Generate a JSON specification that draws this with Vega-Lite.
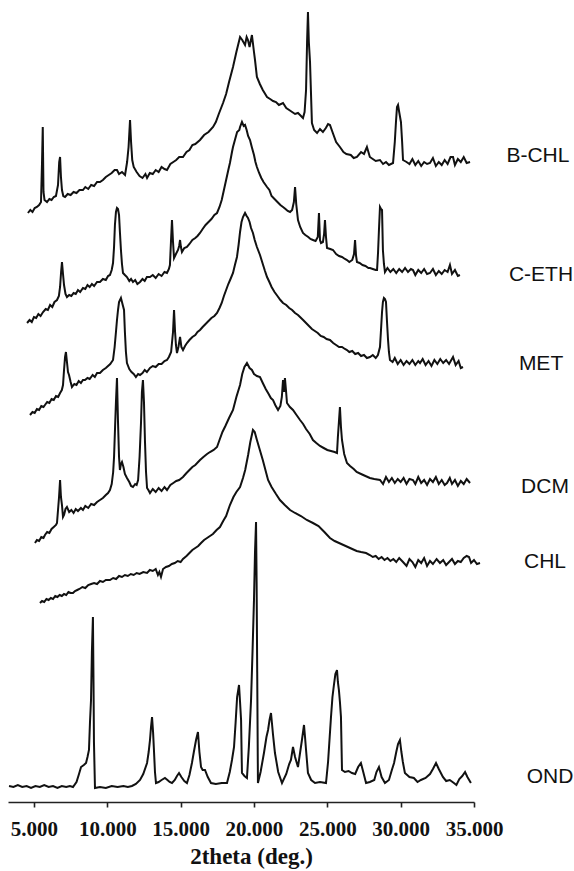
{
"$schema": "https://vega.github.io/schema/vega-lite/v6.json",
"autosize": {"type": "none"},
"padding": {"left": 8, "top": 2, "right": 100, "bottom": 69},
"width": 466,
"height": 800,
"background": "white",
"config": {"view": {"stroke": null}},
"datasets": {
"xrd": [
{"s":"B-CHL","x":4.59,"y":589},{"s":"B-CHL","x":4.75,"y":592},{"s":"B-CHL","x":4.9,"y":590},{"s":"B-CHL","x":5.05,"y":594},{"s":"B-CHL","x":5.2,"y":595},{"s":"B-CHL","x":5.35,"y":597},{"s":"B-CHL","x":5.48,"y":600},{"s":"B-CHL","x":5.55,"y":640},{"s":"B-CHL","x":5.6,"y":675},{"s":"B-CHL","x":5.65,"y":610},{"s":"B-CHL","x":5.72,"y":602},{"s":"B-CHL","x":5.89,"y":600},{"s":"B-CHL","x":6.05,"y":603},{"s":"B-CHL","x":6.2,"y":602},{"s":"B-CHL","x":6.35,"y":605},{"s":"B-CHL","x":6.5,"y":606},{"s":"B-CHL","x":6.64,"y":617},{"s":"B-CHL","x":6.72,"y":640},{"s":"B-CHL","x":6.78,"y":645},{"s":"B-CHL","x":6.84,"y":625},{"s":"B-CHL","x":6.91,"y":612},{"s":"B-CHL","x":7.0,"y":606},{"s":"B-CHL","x":7.12,"y":605},{"s":"B-CHL","x":7.3,"y":608},{"s":"B-CHL","x":7.5,"y":607},{"s":"B-CHL","x":7.7,"y":610},{"s":"B-CHL","x":7.9,"y":609},{"s":"B-CHL","x":8.1,"y":612},{"s":"B-CHL","x":8.34,"y":612},{"s":"B-CHL","x":8.5,"y":615},{"s":"B-CHL","x":8.7,"y":613},{"s":"B-CHL","x":8.9,"y":617},{"s":"B-CHL","x":9.1,"y":616},{"s":"B-CHL","x":9.3,"y":620},{"s":"B-CHL","x":9.5,"y":620},{"s":"B-CHL","x":9.7,"y":622},{"s":"B-CHL","x":9.9,"y":625},{"s":"B-CHL","x":10.1,"y":627},{"s":"B-CHL","x":10.3,"y":629},{"s":"B-CHL","x":10.5,"y":632},{"s":"B-CHL","x":10.66,"y":632},{"s":"B-CHL","x":10.8,"y":628},{"s":"B-CHL","x":11.0,"y":630},{"s":"B-CHL","x":11.21,"y":627},{"s":"B-CHL","x":11.35,"y":640},{"s":"B-CHL","x":11.45,"y":655},{"s":"B-CHL","x":11.55,"y":682},{"s":"B-CHL","x":11.62,"y":660},{"s":"B-CHL","x":11.7,"y":642},{"s":"B-CHL","x":11.8,"y":635},{"s":"B-CHL","x":12.0,"y":630},{"s":"B-CHL","x":12.2,"y":626},{"s":"B-CHL","x":12.4,"y":624},{"s":"B-CHL","x":12.6,"y":628},{"s":"B-CHL","x":12.71,"y":624},{"s":"B-CHL","x":12.9,"y":629},{"s":"B-CHL","x":13.1,"y":628},{"s":"B-CHL","x":13.3,"y":632},{"s":"B-CHL","x":13.5,"y":630},{"s":"B-CHL","x":13.7,"y":635},{"s":"B-CHL","x":13.9,"y":633},{"s":"B-CHL","x":14.07,"y":632},{"s":"B-CHL","x":14.3,"y":638},{"s":"B-CHL","x":14.5,"y":640},{"s":"B-CHL","x":14.7,"y":642},{"s":"B-CHL","x":14.9,"y":645},{"s":"B-CHL","x":15.16,"y":645},{"s":"B-CHL","x":15.4,"y":650},{"s":"B-CHL","x":15.6,"y":652},{"s":"B-CHL","x":15.8,"y":657},{"s":"B-CHL","x":16.0,"y":658},{"s":"B-CHL","x":16.32,"y":662},{"s":"B-CHL","x":16.6,"y":667},{"s":"B-CHL","x":16.9,"y":670},{"s":"B-CHL","x":17.21,"y":675},{"s":"B-CHL","x":17.4,"y":680},{"s":"B-CHL","x":17.6,"y":688},{"s":"B-CHL","x":17.89,"y":699},{"s":"B-CHL","x":18.1,"y":708},{"s":"B-CHL","x":18.3,"y":720},{"s":"B-CHL","x":18.57,"y":735},{"s":"B-CHL","x":18.8,"y":750},{"s":"B-CHL","x":19.05,"y":765},{"s":"B-CHL","x":19.2,"y":762},{"s":"B-CHL","x":19.39,"y":757},{"s":"B-CHL","x":19.5,"y":765},{"s":"B-CHL","x":19.59,"y":762},{"s":"B-CHL","x":19.7,"y":755},{"s":"B-CHL","x":19.86,"y":767},{"s":"B-CHL","x":20.0,"y":750},{"s":"B-CHL","x":20.07,"y":742},{"s":"B-CHL","x":20.2,"y":725},{"s":"B-CHL","x":20.4,"y":718},{"s":"B-CHL","x":20.6,"y":712},{"s":"B-CHL","x":20.89,"y":705},{"s":"B-CHL","x":21.1,"y":703},{"s":"B-CHL","x":21.3,"y":701},{"s":"B-CHL","x":21.5,"y":700},{"s":"B-CHL","x":21.7,"y":697},{"s":"B-CHL","x":21.98,"y":699},{"s":"B-CHL","x":22.2,"y":694},{"s":"B-CHL","x":22.4,"y":692},{"s":"B-CHL","x":22.6,"y":690},{"s":"B-CHL","x":22.8,"y":688},{"s":"B-CHL","x":23.0,"y":689},{"s":"B-CHL","x":23.14,"y":687},{"s":"B-CHL","x":23.34,"y":684},{"s":"B-CHL","x":23.45,"y":690},{"s":"B-CHL","x":23.55,"y":712},{"s":"B-CHL","x":23.62,"y":760},{"s":"B-CHL","x":23.68,"y":790},{"s":"B-CHL","x":23.74,"y":760},{"s":"B-CHL","x":23.82,"y":740},{"s":"B-CHL","x":23.95,"y":679},{"s":"B-CHL","x":24.1,"y":672},{"s":"B-CHL","x":24.3,"y":669},{"s":"B-CHL","x":24.5,"y":673},{"s":"B-CHL","x":24.7,"y":670},{"s":"B-CHL","x":24.9,"y":674},{"s":"B-CHL","x":25.05,"y":678},{"s":"B-CHL","x":25.18,"y":677},{"s":"B-CHL","x":25.4,"y":668},{"s":"B-CHL","x":25.6,"y":660},{"s":"B-CHL","x":25.86,"y":655},{"s":"B-CHL","x":26.1,"y":650},{"s":"B-CHL","x":26.3,"y":648},{"s":"B-CHL","x":26.6,"y":647},{"s":"B-CHL","x":26.8,"y":644},{"s":"B-CHL","x":27.02,"y":645},{"s":"B-CHL","x":27.3,"y":650},{"s":"B-CHL","x":27.5,"y":648},{"s":"B-CHL","x":27.7,"y":655},{"s":"B-CHL","x":27.9,"y":645},{"s":"B-CHL","x":28.1,"y":643},{"s":"B-CHL","x":28.3,"y":641},{"s":"B-CHL","x":28.59,"y":642},{"s":"B-CHL","x":28.8,"y":638},{"s":"B-CHL","x":29.0,"y":640},{"s":"B-CHL","x":29.2,"y":637},{"s":"B-CHL","x":29.48,"y":639},{"s":"B-CHL","x":29.6,"y":660},{"s":"B-CHL","x":29.68,"y":680},{"s":"B-CHL","x":29.75,"y":695},{"s":"B-CHL","x":29.82,"y":697},{"s":"B-CHL","x":29.9,"y":690},{"s":"B-CHL","x":30.02,"y":680},{"s":"B-CHL","x":30.1,"y":660},{"s":"B-CHL","x":30.16,"y":642},{"s":"B-CHL","x":30.4,"y":640},{"s":"B-CHL","x":30.6,"y":638},{"s":"B-CHL","x":30.8,"y":643},{"s":"B-CHL","x":31.0,"y":637},{"s":"B-CHL","x":31.2,"y":641},{"s":"B-CHL","x":31.4,"y":636},{"s":"B-CHL","x":31.6,"y":640},{"s":"B-CHL","x":31.8,"y":638},{"s":"B-CHL","x":32.0,"y":639},{"s":"B-CHL","x":32.2,"y":644},{"s":"B-CHL","x":32.4,"y":636},{"s":"B-CHL","x":32.6,"y":640},{"s":"B-CHL","x":32.8,"y":637},{"s":"B-CHL","x":33.0,"y":642},{"s":"B-CHL","x":33.2,"y":638},{"s":"B-CHL","x":33.4,"y":645},{"s":"B-CHL","x":33.57,"y":645},{"s":"B-CHL","x":33.7,"y":637},{"s":"B-CHL","x":33.9,"y":643},{"s":"B-CHL","x":34.1,"y":640},{"s":"B-CHL","x":34.3,"y":645},{"s":"B-CHL","x":34.5,"y":639},{"s":"B-CHL","x":34.73,"y":640},

{"s":"C-ETH","x":4.53,"y":479},{"s":"C-ETH","x":4.7,"y":482},{"s":"C-ETH","x":4.85,"y":480},{"s":"C-ETH","x":5.0,"y":485},{"s":"C-ETH","x":5.15,"y":484},{"s":"C-ETH","x":5.3,"y":488},{"s":"C-ETH","x":5.45,"y":486},{"s":"C-ETH","x":5.62,"y":490},{"s":"C-ETH","x":5.8,"y":493},{"s":"C-ETH","x":5.95,"y":492},{"s":"C-ETH","x":6.1,"y":497},{"s":"C-ETH","x":6.25,"y":495},{"s":"C-ETH","x":6.4,"y":500},{"s":"C-ETH","x":6.57,"y":502},{"s":"C-ETH","x":6.7,"y":506},{"s":"C-ETH","x":6.78,"y":515},{"s":"C-ETH","x":6.85,"y":530},{"s":"C-ETH","x":6.91,"y":540},{"s":"C-ETH","x":6.98,"y":528},{"s":"C-ETH","x":7.05,"y":517},{"s":"C-ETH","x":7.15,"y":508},{"s":"C-ETH","x":7.25,"y":505},{"s":"C-ETH","x":7.4,"y":507},{"s":"C-ETH","x":7.55,"y":506},{"s":"C-ETH","x":7.7,"y":509},{"s":"C-ETH","x":7.85,"y":508},{"s":"C-ETH","x":8.0,"y":512},{"s":"C-ETH","x":8.15,"y":510},{"s":"C-ETH","x":8.34,"y":514},{"s":"C-ETH","x":8.5,"y":513},{"s":"C-ETH","x":8.65,"y":517},{"s":"C-ETH","x":8.8,"y":515},{"s":"C-ETH","x":8.95,"y":518},{"s":"C-ETH","x":9.1,"y":516},{"s":"C-ETH","x":9.3,"y":520},{"s":"C-ETH","x":9.5,"y":520},{"s":"C-ETH","x":9.7,"y":523},{"s":"C-ETH","x":9.9,"y":522},{"s":"C-ETH","x":10.05,"y":526},{"s":"C-ETH","x":10.18,"y":527},{"s":"C-ETH","x":10.3,"y":532},{"s":"C-ETH","x":10.39,"y":539},{"s":"C-ETH","x":10.46,"y":555},{"s":"C-ETH","x":10.52,"y":577},{"s":"C-ETH","x":10.59,"y":590},{"s":"C-ETH","x":10.66,"y":594},{"s":"C-ETH","x":10.73,"y":593},{"s":"C-ETH","x":10.8,"y":587},{"s":"C-ETH","x":10.86,"y":570},{"s":"C-ETH","x":10.93,"y":552},{"s":"C-ETH","x":11.0,"y":538},{"s":"C-ETH","x":11.07,"y":529},{"s":"C-ETH","x":11.2,"y":527},{"s":"C-ETH","x":11.34,"y":525},{"s":"C-ETH","x":11.5,"y":521},{"s":"C-ETH","x":11.62,"y":523},{"s":"C-ETH","x":11.75,"y":520},{"s":"C-ETH","x":11.9,"y":522},{"s":"C-ETH","x":12.05,"y":518},{"s":"C-ETH","x":12.23,"y":520},{"s":"C-ETH","x":12.4,"y":523},{"s":"C-ETH","x":12.55,"y":521},{"s":"C-ETH","x":12.7,"y":525},{"s":"C-ETH","x":12.91,"y":525},{"s":"C-ETH","x":13.1,"y":527},{"s":"C-ETH","x":13.3,"y":524},{"s":"C-ETH","x":13.5,"y":528},{"s":"C-ETH","x":13.7,"y":526},{"s":"C-ETH","x":13.9,"y":530},{"s":"C-ETH","x":14.07,"y":529},{"s":"C-ETH","x":14.2,"y":533},{"s":"C-ETH","x":14.27,"y":537},{"s":"C-ETH","x":14.34,"y":560},{"s":"C-ETH","x":14.41,"y":582},{"s":"C-ETH","x":14.48,"y":560},{"s":"C-ETH","x":14.55,"y":544},{"s":"C-ETH","x":14.68,"y":548},{"s":"C-ETH","x":14.82,"y":552},{"s":"C-ETH","x":14.9,"y":556},{"s":"C-ETH","x":14.96,"y":562},{"s":"C-ETH","x":15.02,"y":555},{"s":"C-ETH","x":15.09,"y":550},{"s":"C-ETH","x":15.25,"y":554},{"s":"C-ETH","x":15.43,"y":555},{"s":"C-ETH","x":15.6,"y":558},{"s":"C-ETH","x":15.8,"y":562},{"s":"C-ETH","x":16.0,"y":564},{"s":"C-ETH","x":16.15,"y":566},{"s":"C-ETH","x":16.32,"y":569},{"s":"C-ETH","x":16.5,"y":573},{"s":"C-ETH","x":16.7,"y":577},{"s":"C-ETH","x":16.9,"y":580},{"s":"C-ETH","x":17.1,"y":583},{"s":"C-ETH","x":17.3,"y":587},{"s":"C-ETH","x":17.48,"y":589},{"s":"C-ETH","x":17.65,"y":595},{"s":"C-ETH","x":17.8,"y":602},{"s":"C-ETH","x":17.95,"y":612},{"s":"C-ETH","x":18.1,"y":622},{"s":"C-ETH","x":18.25,"y":632},{"s":"C-ETH","x":18.36,"y":639},{"s":"C-ETH","x":18.5,"y":650},{"s":"C-ETH","x":18.57,"y":655},{"s":"C-ETH","x":18.7,"y":662},{"s":"C-ETH","x":18.85,"y":670},{"s":"C-ETH","x":19.0,"y":672},{"s":"C-ETH","x":19.05,"y":675},{"s":"C-ETH","x":19.18,"y":680},{"s":"C-ETH","x":19.3,"y":676},{"s":"C-ETH","x":19.39,"y":677},{"s":"C-ETH","x":19.5,"y":672},{"s":"C-ETH","x":19.6,"y":666},{"s":"C-ETH","x":19.73,"y":662},{"s":"C-ETH","x":19.85,"y":655},{"s":"C-ETH","x":20.0,"y":647},{"s":"C-ETH","x":20.1,"y":640},{"s":"C-ETH","x":20.2,"y":635},{"s":"C-ETH","x":20.35,"y":629},{"s":"C-ETH","x":20.5,"y":624},{"s":"C-ETH","x":20.65,"y":620},{"s":"C-ETH","x":20.89,"y":615},{"s":"C-ETH","x":21.05,"y":612},{"s":"C-ETH","x":21.2,"y":606},{"s":"C-ETH","x":21.4,"y":603},{"s":"C-ETH","x":21.6,"y":600},{"s":"C-ETH","x":21.8,"y":597},{"s":"C-ETH","x":21.98,"y":595},{"s":"C-ETH","x":22.15,"y":593},{"s":"C-ETH","x":22.3,"y":591},{"s":"C-ETH","x":22.46,"y":590},{"s":"C-ETH","x":22.6,"y":592},{"s":"C-ETH","x":22.72,"y":600},{"s":"C-ETH","x":22.8,"y":615},{"s":"C-ETH","x":22.88,"y":598},{"s":"C-ETH","x":23.0,"y":582},{"s":"C-ETH","x":23.15,"y":575},{"s":"C-ETH","x":23.34,"y":569},{"s":"C-ETH","x":23.5,"y":567},{"s":"C-ETH","x":23.7,"y":565},{"s":"C-ETH","x":23.85,"y":563},{"s":"C-ETH","x":24.02,"y":562},{"s":"C-ETH","x":24.2,"y":561},{"s":"C-ETH","x":24.35,"y":565},{"s":"C-ETH","x":24.43,"y":589},{"s":"C-ETH","x":24.5,"y":562},{"s":"C-ETH","x":24.57,"y":559},{"s":"C-ETH","x":24.7,"y":560},{"s":"C-ETH","x":24.78,"y":568},{"s":"C-ETH","x":24.84,"y":582},{"s":"C-ETH","x":24.91,"y":565},{"s":"C-ETH","x":24.98,"y":554},{"s":"C-ETH","x":25.2,"y":553},{"s":"C-ETH","x":25.39,"y":552},{"s":"C-ETH","x":25.6,"y":548},{"s":"C-ETH","x":25.8,"y":546},{"s":"C-ETH","x":26.0,"y":545},{"s":"C-ETH","x":26.2,"y":543},{"s":"C-ETH","x":26.34,"y":542},{"s":"C-ETH","x":26.5,"y":540},{"s":"C-ETH","x":26.7,"y":542},{"s":"C-ETH","x":26.82,"y":548},{"s":"C-ETH","x":26.89,"y":562},{"s":"C-ETH","x":26.96,"y":546},{"s":"C-ETH","x":27.02,"y":540},{"s":"C-ETH","x":27.2,"y":539},{"s":"C-ETH","x":27.4,"y":537},{"s":"C-ETH","x":27.6,"y":536},{"s":"C-ETH","x":27.8,"y":534},{"s":"C-ETH","x":27.91,"y":534},{"s":"C-ETH","x":28.1,"y":533},{"s":"C-ETH","x":28.3,"y":532},{"s":"C-ETH","x":28.39,"y":532},{"s":"C-ETH","x":28.46,"y":550},{"s":"C-ETH","x":28.52,"y":572},{"s":"C-ETH","x":28.59,"y":595},{"s":"C-ETH","x":28.66,"y":593},{"s":"C-ETH","x":28.73,"y":592},{"s":"C-ETH","x":28.79,"y":552},{"s":"C-ETH","x":28.86,"y":538},{"s":"C-ETH","x":28.93,"y":530},{"s":"C-ETH","x":29.1,"y":534},{"s":"C-ETH","x":29.3,"y":530},{"s":"C-ETH","x":29.5,"y":533},{"s":"C-ETH","x":29.7,"y":529},{"s":"C-ETH","x":29.9,"y":533},{"s":"C-ETH","x":30.1,"y":530},{"s":"C-ETH","x":30.3,"y":534},{"s":"C-ETH","x":30.5,"y":530},{"s":"C-ETH","x":30.7,"y":533},{"s":"C-ETH","x":30.84,"y":532},{"s":"C-ETH","x":31.0,"y":527},{"s":"C-ETH","x":31.2,"y":532},{"s":"C-ETH","x":31.4,"y":529},{"s":"C-ETH","x":31.6,"y":533},{"s":"C-ETH","x":31.8,"y":528},{"s":"C-ETH","x":32.0,"y":529},{"s":"C-ETH","x":32.2,"y":533},{"s":"C-ETH","x":32.4,"y":527},{"s":"C-ETH","x":32.6,"y":531},{"s":"C-ETH","x":32.8,"y":528},{"s":"C-ETH","x":33.0,"y":532},{"s":"C-ETH","x":33.2,"y":530},{"s":"C-ETH","x":33.36,"y":537},{"s":"C-ETH","x":33.5,"y":528},{"s":"C-ETH","x":33.7,"y":532},{"s":"C-ETH","x":33.9,"y":526},{"s":"C-ETH","x":34.04,"y":527},

{"s":"MET","x":4.73,"y":387},{"s":"MET","x":4.9,"y":390},{"s":"MET","x":5.05,"y":389},{"s":"MET","x":5.2,"y":393},{"s":"MET","x":5.35,"y":392},{"s":"MET","x":5.5,"y":396},{"s":"MET","x":5.65,"y":395},{"s":"MET","x":5.75,"y":397},{"s":"MET","x":5.9,"y":400},{"s":"MET","x":6.05,"y":399},{"s":"MET","x":6.2,"y":403},{"s":"MET","x":6.35,"y":402},{"s":"MET","x":6.5,"y":406},{"s":"MET","x":6.65,"y":405},{"s":"MET","x":6.78,"y":409},{"s":"MET","x":6.9,"y":412},{"s":"MET","x":6.98,"y":417},{"s":"MET","x":7.05,"y":432},{"s":"MET","x":7.12,"y":445},{"s":"MET","x":7.18,"y":450},{"s":"MET","x":7.25,"y":440},{"s":"MET","x":7.32,"y":430},{"s":"MET","x":7.39,"y":427},{"s":"MET","x":7.5,"y":420},{"s":"MET","x":7.59,"y":415},{"s":"MET","x":7.75,"y":418},{"s":"MET","x":7.9,"y":417},{"s":"MET","x":8.05,"y":421},{"s":"MET","x":8.2,"y":419},{"s":"MET","x":8.34,"y":422},{"s":"MET","x":8.48,"y":422},{"s":"MET","x":8.65,"y":424},{"s":"MET","x":8.8,"y":423},{"s":"MET","x":9.0,"y":427},{"s":"MET","x":9.15,"y":425},{"s":"MET","x":9.3,"y":429},{"s":"MET","x":9.5,"y":429},{"s":"MET","x":9.7,"y":432},{"s":"MET","x":9.9,"y":434},{"s":"MET","x":10.05,"y":436},{"s":"MET","x":10.2,"y":438},{"s":"MET","x":10.39,"y":442},{"s":"MET","x":10.5,"y":455},{"s":"MET","x":10.59,"y":470},{"s":"MET","x":10.66,"y":482},{"s":"MET","x":10.73,"y":492},{"s":"MET","x":10.8,"y":500},{"s":"MET","x":10.93,"y":504},{"s":"MET","x":11.0,"y":500},{"s":"MET","x":11.07,"y":496},{"s":"MET","x":11.14,"y":492},{"s":"MET","x":11.2,"y":470},{"s":"MET","x":11.27,"y":450},{"s":"MET","x":11.34,"y":439},{"s":"MET","x":11.5,"y":433},{"s":"MET","x":11.65,"y":430},{"s":"MET","x":11.8,"y":428},{"s":"MET","x":11.95,"y":425},{"s":"MET","x":12.1,"y":428},{"s":"MET","x":12.23,"y":427},{"s":"MET","x":12.4,"y":429},{"s":"MET","x":12.55,"y":432},{"s":"MET","x":12.7,"y":430},{"s":"MET","x":12.91,"y":434},{"s":"MET","x":13.1,"y":436},{"s":"MET","x":13.3,"y":435},{"s":"MET","x":13.5,"y":438},{"s":"MET","x":13.7,"y":438},{"s":"MET","x":13.9,"y":441},{"s":"MET","x":14.07,"y":442},{"s":"MET","x":14.2,"y":445},{"s":"MET","x":14.35,"y":450},{"s":"MET","x":14.48,"y":470},{"s":"MET","x":14.55,"y":492},{"s":"MET","x":14.62,"y":470},{"s":"MET","x":14.68,"y":457},{"s":"MET","x":14.75,"y":449},{"s":"MET","x":14.85,"y":455},{"s":"MET","x":14.96,"y":465},{"s":"MET","x":15.05,"y":455},{"s":"MET","x":15.16,"y":452},{"s":"MET","x":15.3,"y":456},{"s":"MET","x":15.43,"y":459},{"s":"MET","x":15.6,"y":462},{"s":"MET","x":15.8,"y":465},{"s":"MET","x":16.0,"y":467},{"s":"MET","x":16.15,"y":470},{"s":"MET","x":16.32,"y":472},{"s":"MET","x":16.5,"y":475},{"s":"MET","x":16.7,"y":478},{"s":"MET","x":16.9,"y":481},{"s":"MET","x":17.1,"y":484},{"s":"MET","x":17.3,"y":486},{"s":"MET","x":17.48,"y":489},{"s":"MET","x":17.65,"y":494},{"s":"MET","x":17.8,"y":499},{"s":"MET","x":17.95,"y":506},{"s":"MET","x":18.1,"y":512},{"s":"MET","x":18.25,"y":518},{"s":"MET","x":18.4,"y":523},{"s":"MET","x":18.57,"y":529},{"s":"MET","x":18.7,"y":537},{"s":"MET","x":18.84,"y":545},{"s":"MET","x":18.95,"y":557},{"s":"MET","x":19.05,"y":570},{"s":"MET","x":19.15,"y":580},{"s":"MET","x":19.25,"y":585},{"s":"MET","x":19.39,"y":589},{"s":"MET","x":19.5,"y":586},{"s":"MET","x":19.59,"y":584},{"s":"MET","x":19.7,"y":580},{"s":"MET","x":19.8,"y":574},{"s":"MET","x":19.93,"y":569},{"s":"MET","x":20.05,"y":562},{"s":"MET","x":20.2,"y":555},{"s":"MET","x":20.41,"y":547},{"s":"MET","x":20.6,"y":538},{"s":"MET","x":20.75,"y":531},{"s":"MET","x":20.89,"y":525},{"s":"MET","x":21.05,"y":520},{"s":"MET","x":21.2,"y":515},{"s":"MET","x":21.4,"y":510},{"s":"MET","x":21.6,"y":506},{"s":"MET","x":21.8,"y":502},{"s":"MET","x":21.98,"y":499},{"s":"MET","x":22.2,"y":497},{"s":"MET","x":22.4,"y":494},{"s":"MET","x":22.6,"y":492},{"s":"MET","x":22.8,"y":489},{"s":"MET","x":23.0,"y":487},{"s":"MET","x":23.14,"y":485},{"s":"MET","x":23.35,"y":482},{"s":"MET","x":23.55,"y":479},{"s":"MET","x":23.75,"y":476},{"s":"MET","x":23.95,"y":473},{"s":"MET","x":24.15,"y":471},{"s":"MET","x":24.35,"y":469},{"s":"MET","x":24.55,"y":466},{"s":"MET","x":24.75,"y":465},{"s":"MET","x":24.95,"y":463},{"s":"MET","x":25.18,"y":462},{"s":"MET","x":25.4,"y":459},{"s":"MET","x":25.6,"y":457},{"s":"MET","x":25.8,"y":455},{"s":"MET","x":26.0,"y":455},{"s":"MET","x":26.2,"y":453},{"s":"MET","x":26.34,"y":452},{"s":"MET","x":26.5,"y":450},{"s":"MET","x":26.7,"y":451},{"s":"MET","x":26.9,"y":448},{"s":"MET","x":27.1,"y":449},{"s":"MET","x":27.3,"y":446},{"s":"MET","x":27.5,"y":447},{"s":"MET","x":27.7,"y":444},{"s":"MET","x":27.91,"y":445},{"s":"MET","x":28.1,"y":447},{"s":"MET","x":28.3,"y":444},{"s":"MET","x":28.45,"y":447},{"s":"MET","x":28.59,"y":455},{"s":"MET","x":28.66,"y":472},{"s":"MET","x":28.73,"y":490},{"s":"MET","x":28.79,"y":500},{"s":"MET","x":28.86,"y":504},{"s":"MET","x":28.93,"y":503},{"s":"MET","x":29.0,"y":500},{"s":"MET","x":29.07,"y":480},{"s":"MET","x":29.14,"y":462},{"s":"MET","x":29.2,"y":450},{"s":"MET","x":29.27,"y":442},{"s":"MET","x":29.45,"y":440},{"s":"MET","x":29.6,"y":444},{"s":"MET","x":29.8,"y":438},{"s":"MET","x":30.0,"y":442},{"s":"MET","x":30.2,"y":437},{"s":"MET","x":30.4,"y":441},{"s":"MET","x":30.6,"y":438},{"s":"MET","x":30.8,"y":442},{"s":"MET","x":31.0,"y":437},{"s":"MET","x":31.2,"y":441},{"s":"MET","x":31.32,"y":439},{"s":"MET","x":31.5,"y":443},{"s":"MET","x":31.7,"y":437},{"s":"MET","x":31.9,"y":441},{"s":"MET","x":32.1,"y":436},{"s":"MET","x":32.3,"y":442},{"s":"MET","x":32.5,"y":438},{"s":"MET","x":32.7,"y":443},{"s":"MET","x":32.9,"y":439},{"s":"MET","x":33.1,"y":442},{"s":"MET","x":33.3,"y":438},{"s":"MET","x":33.57,"y":445},{"s":"MET","x":33.75,"y":437},{"s":"MET","x":33.95,"y":441},{"s":"MET","x":34.1,"y":434},{"s":"MET","x":34.25,"y":435},

{"s":"DCM","x":5.07,"y":259},{"s":"DCM","x":5.2,"y":262},{"s":"DCM","x":5.35,"y":261},{"s":"DCM","x":5.5,"y":265},{"s":"DCM","x":5.65,"y":264},{"s":"DCM","x":5.75,"y":267},{"s":"DCM","x":5.9,"y":270},{"s":"DCM","x":6.05,"y":269},{"s":"DCM","x":6.2,"y":273},{"s":"DCM","x":6.35,"y":275},{"s":"DCM","x":6.5,"y":277},{"s":"DCM","x":6.57,"y":279},{"s":"DCM","x":6.64,"y":292},{"s":"DCM","x":6.71,"y":305},{"s":"DCM","x":6.78,"y":322},{"s":"DCM","x":6.84,"y":305},{"s":"DCM","x":6.91,"y":297},{"s":"DCM","x":6.98,"y":285},{"s":"DCM","x":7.05,"y":287},{"s":"DCM","x":7.15,"y":293},{"s":"DCM","x":7.25,"y":295},{"s":"DCM","x":7.4,"y":290},{"s":"DCM","x":7.55,"y":292},{"s":"DCM","x":7.7,"y":289},{"s":"DCM","x":7.85,"y":293},{"s":"DCM","x":8.0,"y":291},{"s":"DCM","x":8.2,"y":294},{"s":"DCM","x":8.34,"y":292},{"s":"DCM","x":8.5,"y":296},{"s":"DCM","x":8.7,"y":294},{"s":"DCM","x":8.9,"y":298},{"s":"DCM","x":9.1,"y":297},{"s":"DCM","x":9.3,"y":300},{"s":"DCM","x":9.5,"y":302},{"s":"DCM","x":9.7,"y":304},{"s":"DCM","x":9.9,"y":307},{"s":"DCM","x":10.05,"y":309},{"s":"DCM","x":10.18,"y":312},{"s":"DCM","x":10.3,"y":318},{"s":"DCM","x":10.4,"y":330},{"s":"DCM","x":10.46,"y":345},{"s":"DCM","x":10.53,"y":375},{"s":"DCM","x":10.59,"y":400},{"s":"DCM","x":10.66,"y":424},{"s":"DCM","x":10.73,"y":380},{"s":"DCM","x":10.8,"y":345},{"s":"DCM","x":10.86,"y":332},{"s":"DCM","x":10.93,"y":338},{"s":"DCM","x":11.0,"y":340},{"s":"DCM","x":11.1,"y":335},{"s":"DCM","x":11.2,"y":328},{"s":"DCM","x":11.34,"y":324},{"s":"DCM","x":11.5,"y":320},{"s":"DCM","x":11.62,"y":316},{"s":"DCM","x":11.75,"y":315},{"s":"DCM","x":11.9,"y":318},{"s":"DCM","x":12.0,"y":317},{"s":"DCM","x":12.1,"y":322},{"s":"DCM","x":12.2,"y":345},{"s":"DCM","x":12.3,"y":380},{"s":"DCM","x":12.36,"y":410},{"s":"DCM","x":12.43,"y":422},{"s":"DCM","x":12.5,"y":400},{"s":"DCM","x":12.57,"y":360},{"s":"DCM","x":12.64,"y":330},{"s":"DCM","x":12.71,"y":314},{"s":"DCM","x":12.8,"y":312},{"s":"DCM","x":12.91,"y":309},{"s":"DCM","x":13.1,"y":313},{"s":"DCM","x":13.3,"y":310},{"s":"DCM","x":13.5,"y":314},{"s":"DCM","x":13.7,"y":311},{"s":"DCM","x":13.9,"y":315},{"s":"DCM","x":14.07,"y":312},{"s":"DCM","x":14.3,"y":317},{"s":"DCM","x":14.5,"y":319},{"s":"DCM","x":14.7,"y":321},{"s":"DCM","x":14.9,"y":322},{"s":"DCM","x":15.16,"y":325},{"s":"DCM","x":15.4,"y":329},{"s":"DCM","x":15.6,"y":332},{"s":"DCM","x":15.8,"y":335},{"s":"DCM","x":16.0,"y":337},{"s":"DCM","x":16.32,"y":342},{"s":"DCM","x":16.55,"y":345},{"s":"DCM","x":16.8,"y":348},{"s":"DCM","x":17.0,"y":350},{"s":"DCM","x":17.25,"y":352},{"s":"DCM","x":17.48,"y":355},{"s":"DCM","x":17.65,"y":362},{"s":"DCM","x":17.85,"y":370},{"s":"DCM","x":18.05,"y":376},{"s":"DCM","x":18.3,"y":384},{"s":"DCM","x":18.57,"y":392},{"s":"DCM","x":18.8,"y":405},{"s":"DCM","x":19.05,"y":417},{"s":"DCM","x":19.2,"y":428},{"s":"DCM","x":19.35,"y":435},{"s":"DCM","x":19.52,"y":439},{"s":"DCM","x":19.7,"y":434},{"s":"DCM","x":19.86,"y":432},{"s":"DCM","x":20.0,"y":428},{"s":"DCM","x":20.2,"y":426},{"s":"DCM","x":20.41,"y":425},{"s":"DCM","x":20.6,"y":419},{"s":"DCM","x":20.8,"y":413},{"s":"DCM","x":21.0,"y":408},{"s":"DCM","x":21.15,"y":404},{"s":"DCM","x":21.3,"y":402},{"s":"DCM","x":21.45,"y":397},{"s":"DCM","x":21.64,"y":392},{"s":"DCM","x":21.8,"y":396},{"s":"DCM","x":21.9,"y":405},{"s":"DCM","x":21.98,"y":422},{"s":"DCM","x":22.05,"y":410},{"s":"DCM","x":22.11,"y":424},{"s":"DCM","x":22.18,"y":412},{"s":"DCM","x":22.25,"y":399},{"s":"DCM","x":22.45,"y":395},{"s":"DCM","x":22.66,"y":392},{"s":"DCM","x":22.9,"y":387},{"s":"DCM","x":23.14,"y":382},{"s":"DCM","x":23.35,"y":378},{"s":"DCM","x":23.55,"y":373},{"s":"DCM","x":23.8,"y":368},{"s":"DCM","x":24.02,"y":362},{"s":"DCM","x":24.25,"y":359},{"s":"DCM","x":24.5,"y":356},{"s":"DCM","x":24.75,"y":354},{"s":"DCM","x":25.0,"y":352},{"s":"DCM","x":25.25,"y":351},{"s":"DCM","x":25.5,"y":350},{"s":"DCM","x":25.66,"y":349},{"s":"DCM","x":25.72,"y":365},{"s":"DCM","x":25.79,"y":380},{"s":"DCM","x":25.86,"y":395},{"s":"DCM","x":25.93,"y":375},{"s":"DCM","x":26.0,"y":362},{"s":"DCM","x":26.15,"y":348},{"s":"DCM","x":26.34,"y":339},{"s":"DCM","x":26.55,"y":336},{"s":"DCM","x":26.8,"y":333},{"s":"DCM","x":27.0,"y":330},{"s":"DCM","x":27.3,"y":328},{"s":"DCM","x":27.6,"y":326},{"s":"DCM","x":27.9,"y":324},{"s":"DCM","x":28.2,"y":323},{"s":"DCM","x":28.59,"y":322},{"s":"DCM","x":28.8,"y":318},{"s":"DCM","x":29.0,"y":325},{"s":"DCM","x":29.2,"y":320},{"s":"DCM","x":29.4,"y":324},{"s":"DCM","x":29.6,"y":319},{"s":"DCM","x":29.8,"y":323},{"s":"DCM","x":30.0,"y":320},{"s":"DCM","x":30.2,"y":324},{"s":"DCM","x":30.4,"y":318},{"s":"DCM","x":30.6,"y":323},{"s":"DCM","x":30.84,"y":322},{"s":"DCM","x":31.0,"y":318},{"s":"DCM","x":31.2,"y":325},{"s":"DCM","x":31.4,"y":319},{"s":"DCM","x":31.6,"y":322},{"s":"DCM","x":31.8,"y":317},{"s":"DCM","x":32.0,"y":323},{"s":"DCM","x":32.2,"y":320},{"s":"DCM","x":32.4,"y":325},{"s":"DCM","x":32.6,"y":318},{"s":"DCM","x":32.8,"y":322},{"s":"DCM","x":33.0,"y":317},{"s":"DCM","x":33.16,"y":319},{"s":"DCM","x":33.35,"y":324},{"s":"DCM","x":33.5,"y":318},{"s":"DCM","x":33.7,"y":322},{"s":"DCM","x":33.9,"y":316},{"s":"DCM","x":34.1,"y":321},{"s":"DCM","x":34.3,"y":318},{"s":"DCM","x":34.5,"y":323},{"s":"DCM","x":34.73,"y":319},

{"s":"CHL","x":5.41,"y":199},{"s":"CHL","x":5.55,"y":201},{"s":"CHL","x":5.7,"y":200},{"s":"CHL","x":5.85,"y":203},{"s":"CHL","x":6.0,"y":202},{"s":"CHL","x":6.15,"y":204},{"s":"CHL","x":6.3,"y":203},{"s":"CHL","x":6.45,"y":206},{"s":"CHL","x":6.6,"y":205},{"s":"CHL","x":6.75,"y":207},{"s":"CHL","x":6.9,"y":206},{"s":"CHL","x":7.05,"y":208},{"s":"CHL","x":7.2,"y":207},{"s":"CHL","x":7.35,"y":210},{"s":"CHL","x":7.5,"y":209},{"s":"CHL","x":7.66,"y":209},{"s":"CHL","x":7.8,"y":211},{"s":"CHL","x":7.95,"y":212},{"s":"CHL","x":8.1,"y":213},{"s":"CHL","x":8.3,"y":215},{"s":"CHL","x":8.5,"y":214},{"s":"CHL","x":8.7,"y":217},{"s":"CHL","x":8.9,"y":218},{"s":"CHL","x":9.1,"y":219},{"s":"CHL","x":9.3,"y":218},{"s":"CHL","x":9.5,"y":221},{"s":"CHL","x":9.7,"y":220},{"s":"CHL","x":9.9,"y":222},{"s":"CHL","x":10.18,"y":222},{"s":"CHL","x":10.4,"y":224},{"s":"CHL","x":10.6,"y":223},{"s":"CHL","x":10.8,"y":226},{"s":"CHL","x":11.0,"y":225},{"s":"CHL","x":11.2,"y":227},{"s":"CHL","x":11.4,"y":226},{"s":"CHL","x":11.6,"y":228},{"s":"CHL","x":11.8,"y":227},{"s":"CHL","x":12.0,"y":229},{"s":"CHL","x":12.2,"y":228},{"s":"CHL","x":12.45,"y":230},{"s":"CHL","x":12.71,"y":229},{"s":"CHL","x":12.9,"y":232},{"s":"CHL","x":13.1,"y":231},{"s":"CHL","x":13.3,"y":233},{"s":"CHL","x":13.45,"y":227},{"s":"CHL","x":13.55,"y":230},{"s":"CHL","x":13.66,"y":225},{"s":"CHL","x":13.8,"y":233},{"s":"CHL","x":14.0,"y":235},{"s":"CHL","x":14.2,"y":236},{"s":"CHL","x":14.4,"y":238},{"s":"CHL","x":14.6,"y":239},{"s":"CHL","x":14.8,"y":241},{"s":"CHL","x":15.0,"y":240},{"s":"CHL","x":15.16,"y":243},{"s":"CHL","x":15.4,"y":246},{"s":"CHL","x":15.6,"y":249},{"s":"CHL","x":15.8,"y":252},{"s":"CHL","x":16.0,"y":254},{"s":"CHL","x":16.2,"y":256},{"s":"CHL","x":16.39,"y":259},{"s":"CHL","x":16.6,"y":262},{"s":"CHL","x":16.8,"y":264},{"s":"CHL","x":17.0,"y":266},{"s":"CHL","x":17.2,"y":268},{"s":"CHL","x":17.45,"y":272},{"s":"CHL","x":17.68,"y":275},{"s":"CHL","x":17.9,"y":281},{"s":"CHL","x":18.1,"y":286},{"s":"CHL","x":18.36,"y":297},{"s":"CHL","x":18.6,"y":305},{"s":"CHL","x":18.8,"y":310},{"s":"CHL","x":19.05,"y":315},{"s":"CHL","x":19.25,"y":324},{"s":"CHL","x":19.4,"y":332},{"s":"CHL","x":19.6,"y":347},{"s":"CHL","x":19.75,"y":360},{"s":"CHL","x":19.93,"y":372},{"s":"CHL","x":20.05,"y":370},{"s":"CHL","x":20.2,"y":362},{"s":"CHL","x":20.4,"y":352},{"s":"CHL","x":20.6,"y":342},{"s":"CHL","x":20.96,"y":322},{"s":"CHL","x":21.2,"y":315},{"s":"CHL","x":21.5,"y":308},{"s":"CHL","x":21.77,"y":302},{"s":"CHL","x":22.1,"y":297},{"s":"CHL","x":22.46,"y":292},{"s":"CHL","x":22.8,"y":289},{"s":"CHL","x":23.2,"y":286},{"s":"CHL","x":23.6,"y":282},{"s":"CHL","x":24.02,"y":279},{"s":"CHL","x":24.4,"y":276},{"s":"CHL","x":24.8,"y":270},{"s":"CHL","x":25.18,"y":264},{"s":"CHL","x":25.5,"y":261},{"s":"CHL","x":25.8,"y":259},{"s":"CHL","x":26.1,"y":257},{"s":"CHL","x":26.4,"y":255},{"s":"CHL","x":26.7,"y":253},{"s":"CHL","x":27.0,"y":251},{"s":"CHL","x":27.3,"y":250},{"s":"CHL","x":27.64,"y":249},{"s":"CHL","x":27.9,"y":247},{"s":"CHL","x":28.1,"y":245},{"s":"CHL","x":28.3,"y":246},{"s":"CHL","x":28.5,"y":243},{"s":"CHL","x":28.7,"y":245},{"s":"CHL","x":28.9,"y":242},{"s":"CHL","x":29.1,"y":244},{"s":"CHL","x":29.3,"y":241},{"s":"CHL","x":29.5,"y":243},{"s":"CHL","x":29.7,"y":240},{"s":"CHL","x":29.9,"y":244},{"s":"CHL","x":30.16,"y":240},{"s":"CHL","x":30.4,"y":236},{"s":"CHL","x":30.6,"y":243},{"s":"CHL","x":30.8,"y":240},{"s":"CHL","x":31.0,"y":235},{"s":"CHL","x":31.2,"y":242},{"s":"CHL","x":31.4,"y":239},{"s":"CHL","x":31.6,"y":244},{"s":"CHL","x":31.8,"y":236},{"s":"CHL","x":32.0,"y":241},{"s":"CHL","x":32.2,"y":238},{"s":"CHL","x":32.45,"y":243},{"s":"CHL","x":32.68,"y":239},{"s":"CHL","x":32.9,"y":242},{"s":"CHL","x":33.1,"y":237},{"s":"CHL","x":33.3,"y":240},{"s":"CHL","x":33.5,"y":243},{"s":"CHL","x":33.7,"y":238},{"s":"CHL","x":33.9,"y":241},{"s":"CHL","x":34.1,"y":240},{"s":"CHL","x":34.3,"y":244},{"s":"CHL","x":34.5,"y":246},{"s":"CHL","x":34.66,"y":245},{"s":"CHL","x":34.8,"y":239},{"s":"CHL","x":35.0,"y":242},{"s":"CHL","x":35.2,"y":238},{"s":"CHL","x":35.41,"y":239},

{"s":"OND","x":3.3,"y":16},{"s":"OND","x":3.6,"y":15},{"s":"OND","x":3.9,"y":17},{"s":"OND","x":4.2,"y":15},{"s":"OND","x":4.5,"y":16},{"s":"OND","x":4.8,"y":14},{"s":"OND","x":5.1,"y":16},{"s":"OND","x":5.4,"y":15},{"s":"OND","x":5.7,"y":17},{"s":"OND","x":6.0,"y":15},{"s":"OND","x":6.3,"y":16},{"s":"OND","x":6.6,"y":14},{"s":"OND","x":6.9,"y":16},{"s":"OND","x":7.2,"y":15},{"s":"OND","x":7.45,"y":16},{"s":"OND","x":7.66,"y":15},{"s":"OND","x":7.9,"y":20},{"s":"OND","x":8.05,"y":27},{"s":"OND","x":8.21,"y":35},{"s":"OND","x":8.4,"y":37},{"s":"OND","x":8.55,"y":39},{"s":"OND","x":8.65,"y":45},{"s":"OND","x":8.75,"y":52},{"s":"OND","x":8.82,"y":80},{"s":"OND","x":8.89,"y":102},{"s":"OND","x":8.95,"y":150},{"s":"OND","x":9.02,"y":185},{"s":"OND","x":9.06,"y":120},{"s":"OND","x":9.09,"y":60},{"s":"OND","x":9.12,"y":40},{"s":"OND","x":9.16,"y":14},{"s":"OND","x":9.5,"y":15},{"s":"OND","x":9.9,"y":14},{"s":"OND","x":10.3,"y":16},{"s":"OND","x":10.7,"y":15},{"s":"OND","x":11.1,"y":16},{"s":"OND","x":11.4,"y":15},{"s":"OND","x":11.68,"y":16},{"s":"OND","x":11.95,"y":18},{"s":"OND","x":12.23,"y":22},{"s":"OND","x":12.45,"y":28},{"s":"OND","x":12.71,"y":39},{"s":"OND","x":12.82,"y":50},{"s":"OND","x":12.91,"y":62},{"s":"OND","x":12.98,"y":75},{"s":"OND","x":13.05,"y":85},{"s":"OND","x":13.12,"y":70},{"s":"OND","x":13.18,"y":52},{"s":"OND","x":13.25,"y":30},{"s":"OND","x":13.32,"y":19},{"s":"OND","x":13.5,"y":20},{"s":"OND","x":13.7,"y":22},{"s":"OND","x":13.93,"y":24},{"s":"OND","x":14.1,"y":22},{"s":"OND","x":14.25,"y":20},{"s":"OND","x":14.41,"y":19},{"s":"OND","x":14.6,"y":22},{"s":"OND","x":14.75,"y":26},{"s":"OND","x":14.89,"y":29},{"s":"OND","x":15.05,"y":25},{"s":"OND","x":15.25,"y":21},{"s":"OND","x":15.43,"y":19},{"s":"OND","x":15.6,"y":27},{"s":"OND","x":15.77,"y":39},{"s":"OND","x":15.9,"y":50},{"s":"OND","x":16.05,"y":62},{"s":"OND","x":16.18,"y":70},{"s":"OND","x":16.28,"y":50},{"s":"OND","x":16.39,"y":35},{"s":"OND","x":16.5,"y":32},{"s":"OND","x":16.66,"y":32},{"s":"OND","x":16.85,"y":25},{"s":"OND","x":17.07,"y":19},{"s":"OND","x":17.4,"y":18},{"s":"OND","x":17.8,"y":19},{"s":"OND","x":18.16,"y":19},{"s":"OND","x":18.35,"y":30},{"s":"OND","x":18.5,"y":42},{"s":"OND","x":18.64,"y":55},{"s":"OND","x":18.75,"y":80},{"s":"OND","x":18.85,"y":105},{"s":"OND","x":18.98,"y":117},{"s":"OND","x":19.05,"y":100},{"s":"OND","x":19.12,"y":82},{"s":"OND","x":19.18,"y":29},{"s":"OND","x":19.35,"y":26},{"s":"OND","x":19.52,"y":24},{"s":"OND","x":19.65,"y":55},{"s":"OND","x":19.8,"y":102},{"s":"OND","x":19.9,"y":150},{"s":"OND","x":20.0,"y":202},{"s":"OND","x":20.07,"y":250},{"s":"OND","x":20.14,"y":280},{"s":"OND","x":20.18,"y":220},{"s":"OND","x":20.22,"y":130},{"s":"OND","x":20.27,"y":19},{"s":"OND","x":20.45,"y":30},{"s":"OND","x":20.68,"y":49},{"s":"OND","x":20.85,"y":65},{"s":"OND","x":20.96,"y":72},{"s":"OND","x":21.06,"y":82},{"s":"OND","x":21.16,"y":89},{"s":"OND","x":21.23,"y":78},{"s":"OND","x":21.3,"y":67},{"s":"OND","x":21.43,"y":49},{"s":"OND","x":21.65,"y":30},{"s":"OND","x":21.91,"y":19},{"s":"OND","x":22.2,"y":28},{"s":"OND","x":22.4,"y":38},{"s":"OND","x":22.52,"y":42},{"s":"OND","x":22.66,"y":55},{"s":"OND","x":22.8,"y":45},{"s":"OND","x":23.0,"y":35},{"s":"OND","x":23.15,"y":50},{"s":"OND","x":23.27,"y":62},{"s":"OND","x":23.41,"y":77},{"s":"OND","x":23.48,"y":65},{"s":"OND","x":23.55,"y":52},{"s":"OND","x":23.68,"y":29},{"s":"OND","x":23.9,"y":22},{"s":"OND","x":24.16,"y":19},{"s":"OND","x":24.5,"y":20},{"s":"OND","x":24.91,"y":19},{"s":"OND","x":25.05,"y":40},{"s":"OND","x":25.25,"y":85},{"s":"OND","x":25.35,"y":105},{"s":"OND","x":25.45,"y":117},{"s":"OND","x":25.55,"y":128},{"s":"OND","x":25.66,"y":132},{"s":"OND","x":25.72,"y":120},{"s":"OND","x":25.79,"y":112},{"s":"OND","x":25.86,"y":100},{"s":"OND","x":25.93,"y":85},{"s":"OND","x":26.0,"y":32},{"s":"OND","x":26.2,"y":30},{"s":"OND","x":26.45,"y":31},{"s":"OND","x":26.68,"y":29},{"s":"OND","x":26.9,"y":28},{"s":"OND","x":27.1,"y":35},{"s":"OND","x":27.29,"y":39},{"s":"OND","x":27.45,"y":30},{"s":"OND","x":27.64,"y":19},{"s":"OND","x":27.9,"y":20},{"s":"OND","x":28.2,"y":22},{"s":"OND","x":28.35,"y":30},{"s":"OND","x":28.52,"y":35},{"s":"OND","x":28.7,"y":25},{"s":"OND","x":28.93,"y":19},{"s":"OND","x":29.2,"y":22},{"s":"OND","x":29.4,"y":32},{"s":"OND","x":29.55,"y":39},{"s":"OND","x":29.7,"y":50},{"s":"OND","x":29.82,"y":58},{"s":"OND","x":29.95,"y":62},{"s":"OND","x":30.05,"y":50},{"s":"OND","x":30.15,"y":40},{"s":"OND","x":30.29,"y":29},{"s":"OND","x":30.6,"y":25},{"s":"OND","x":30.9,"y":24},{"s":"OND","x":31.15,"y":20},{"s":"OND","x":31.38,"y":22},{"s":"OND","x":31.7,"y":24},{"s":"OND","x":32.0,"y":28},{"s":"OND","x":32.2,"y":33},{"s":"OND","x":32.41,"y":39},{"s":"OND","x":32.6,"y":33},{"s":"OND","x":32.88,"y":25},{"s":"OND","x":33.1,"y":21},{"s":"OND","x":33.35,"y":22},{"s":"OND","x":33.63,"y":19},{"s":"OND","x":33.8,"y":17},{"s":"OND","x":34.0,"y":23},{"s":"OND","x":34.2,"y":26},{"s":"OND","x":34.39,"y":30},{"s":"OND","x":34.55,"y":25},{"s":"OND","x":34.79,"y":19}
],
"labels": [
{"s":"B-CHL","x":39.36,"y":646},
{"s":"C-ETH","x":39.57,"y":527},
{"s":"MET","x":39.57,"y":438},
{"s":"DCM","x":39.84,"y":315},
{"s":"CHL","x":39.84,"y":240},
{"s":"OND","x":40.18,"y":25}
]
},
"layer": [
{
"data": {"name": "xrd"},
"mark": {"type": "line", "color": "#111111", "strokeWidth": 2, "strokeJoin": "miter"},
"encoding": {
"x": {"field": "x", "type": "quantitative", "scale": {"domain": [3.23, 35], "nice": false, "zero": false},
"axis": {"values": [5, 10, 15, 20, 25, 30, 35], "format": ".3f", "grid": false, "domainColor": "#222222", "domainWidth": 1.6, "tickColor": "#222222", "tickWidth": 1.6, "tickSize": 5, "labelFont": "Liberation Serif", "labelFontWeight": "bold", "labelFontSize": 21, "labelColor": "#111111", "labelPadding": 11, "labelFlush": false, "labelOverlap": false, "title": "2theta (deg.)", "titleFont": "Liberation Serif", "titleFontWeight": "bold", "titleFontSize": 23, "titleColor": "#111111", "titleX": 243, "titleY": 43, "titleBaseline": "top", "titleAnchor": null}},
"y": {"field": "y", "type": "quantitative", "scale": {"domain": [0, 800], "nice": false}, "axis": null},
"detail": {"field": "s", "type": "nominal"}
}
},
{
"data": {"name": "labels"},
"mark": {"type": "text", "font": "Liberation Sans", "fontSize": 21, "color": "#111111", "align": "center", "baseline": "middle"},
"encoding": {
"x": {"field": "x", "type": "quantitative"},
"y": {"field": "y", "type": "quantitative"},
"text": {"field": "s", "type": "nominal"}
}
}
]
}
